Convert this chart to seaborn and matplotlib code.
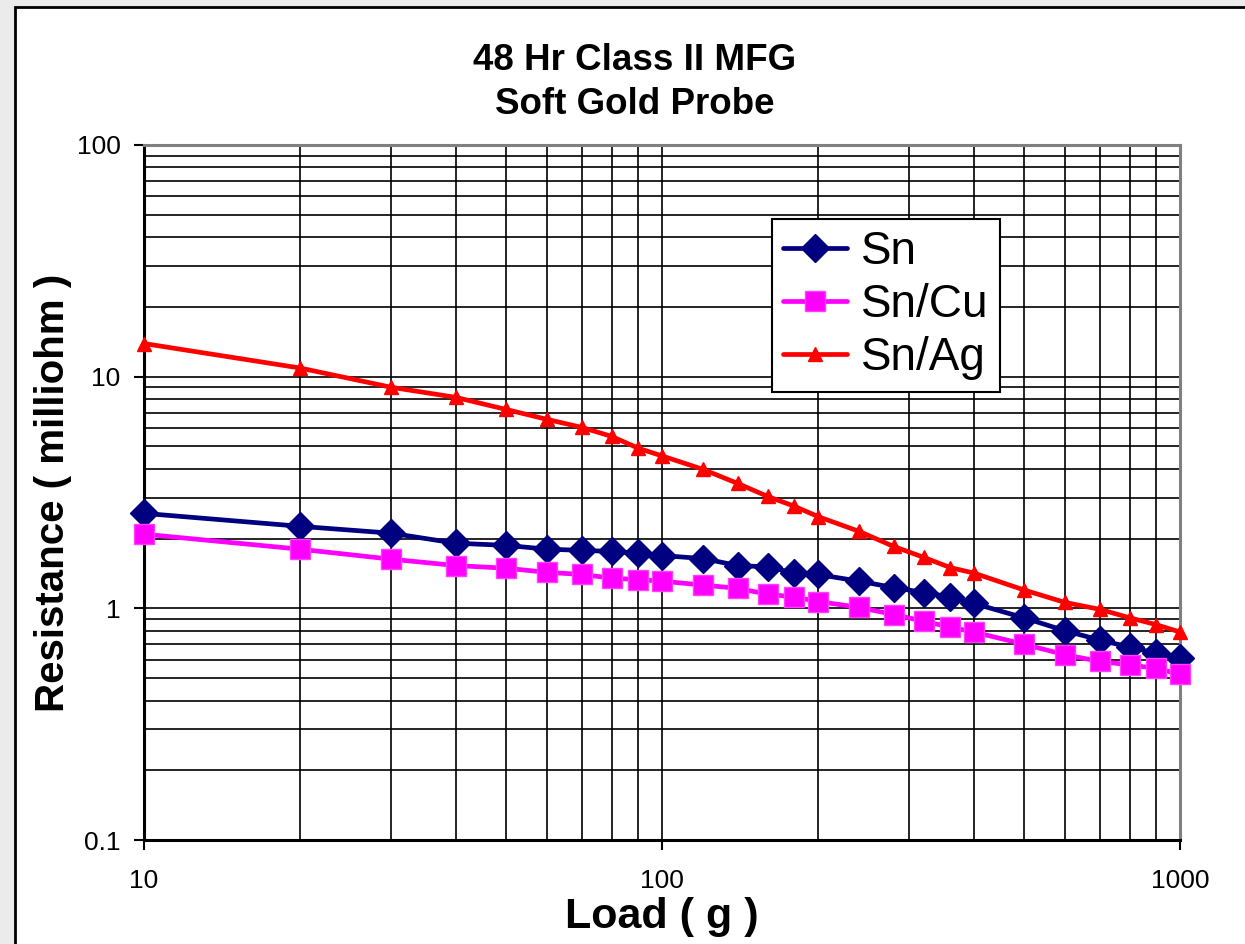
import matplotlib
matplotlib.use("Agg")
import matplotlib.pyplot as plt
import numpy as np
import pandas as pd
import seaborn as sns
from matplotlib.patches import Rectangle
from matplotlib.ticker import FixedLocator, LogLocator, NullFormatter

# load (g) at which resistance was measured
load_g = [10, 20, 30, 40, 50, 60, 70, 80, 90, 100, 120, 140, 160, 180, 200,
          240, 280, 320, 360, 400, 500, 600, 700, 800, 900, 1000]

# contact resistance, milliohm
sn = [2.57, 2.26, 2.11, 1.91, 1.87, 1.80, 1.78, 1.76, 1.73, 1.69, 1.64, 1.53, 1.51,
      1.42, 1.40, 1.31, 1.23, 1.17, 1.12, 1.05, 0.91, 0.80, 0.73, 0.68, 0.64, 0.61]
sn_cu = [2.09, 1.80, 1.63, 1.53, 1.49, 1.43, 1.40, 1.35, 1.33, 1.31, 1.26, 1.22, 1.15,
         1.12, 1.07, 1.01, 0.94, 0.88, 0.83, 0.79, 0.70, 0.63, 0.59, 0.57, 0.55, 0.52]
sn_ag = [13.9, 10.9, 9.0, 8.14, 7.22, 6.54, 6.04, 5.52, 4.91, 4.55, 3.98, 3.46, 3.04,
         2.76, 2.49, 2.15, 1.85, 1.66, 1.50, 1.42, 1.20, 1.06, 0.99, 0.91, 0.85, 0.79]

series_names = ["Sn", "Sn/Cu", "Sn/Ag"]
y_ticks = [0.1, 1, 10, 100]
y_tick_labels = ["0.1", "1", "10", "100"]
x_ticks = [10, 100, 1000]
x_tick_labels = ["10", "100", "1000"]

df = pd.DataFrame({
    "load": load_g * 3,
    "res": sn + sn_cu + sn_ag,
    "alloy": np.repeat(series_names, len(load_g)),
})

# per-series look, Excel style
styles = {
    "Sn": dict(color="#000080", marker="D", markersize=14, mec="#000080"),
    "Sn/Cu": dict(color="#FF00FF", marker="s", markersize=15, mec="#FF40FF"),
    "Sn/Ag": dict(color="#FF0000", marker="^", markersize=10, mec="#FF0000"),
}

sns.set_theme(style="white")
plt.rcParams["font.family"] = ["Liberation Sans", "DejaVu Sans"]
plt.rcParams["text.color"] = "black"
plt.rcParams["axes.labelcolor"] = "black"
plt.rcParams["xtick.color"] = "black"
plt.rcParams["ytick.color"] = "black"

fig = plt.figure(figsize=(12.45, 9.44), dpi=100, facecolor="#EBEBEB")
fig.patches.append(Rectangle((15 / 1245, -0.02), 1.1, 1 - 7 / 944 + 0.02,
                             transform=fig.transFigure, facecolor="white",
                             edgecolor="black", lw=2, zorder=-10))
ax = fig.add_axes([144 / 1245, 1 - 840 / 944, 1036 / 1245, 695 / 944])
ax.set_zorder(2)
ax.set_facecolor("white")
ax.set_xscale("log")
ax.set_yscale("log")

for name in series_names:
    st = styles[name]
    sns.lineplot(data=df[df["alloy"] == name], x="load", y="res", ax=ax,
                 label=name, color=st["color"], marker=st["marker"],
                 markersize=st["markersize"], markeredgecolor=st["mec"],
                 markeredgewidth=1, linewidth=3.4, errorbar=None, zorder=3,
                 clip_on=False)

ax.set_xlim(10, 1000)
ax.set_ylim(0.1, 100)
ax.xaxis.set_major_locator(FixedLocator(x_ticks))
ax.set_xticklabels(x_tick_labels)
ax.yaxis.set_major_locator(FixedLocator(y_ticks))
ax.set_yticklabels(y_tick_labels)
ax.xaxis.set_minor_locator(LogLocator(base=10, subs=np.arange(2, 10)))
ax.yaxis.set_minor_locator(LogLocator(base=10, subs=np.arange(2, 10)))
ax.xaxis.set_minor_formatter(NullFormatter())
ax.yaxis.set_minor_formatter(NullFormatter())

ax.grid(which="both", color="black", linewidth=1.2)
ax.set_axisbelow(True)
ax.tick_params(which="minor", length=0)
ax.tick_params(axis="y", which="major", direction="out", length=7, width=1.5,
               color="black", labelsize=19, pad=10, left=True)
ax.tick_params(axis="x", which="major", direction="out", length=7, width=1.5,
               color="black", labelsize=19, pad=14, bottom=True)

for side in ["left", "bottom"]:
    ax.spines[side].set_color("black")
    ax.spines[side].set_linewidth(2.2)
for side in ["top", "right"]:
    ax.spines[side].set_color("#808080")
    ax.spines[side].set_linewidth(2.2)

ax.set_xlabel("Load ( g )", fontsize=31, fontweight="bold", labelpad=3)
ax.set_ylabel("Resistance ( milliohm )", fontsize=29, fontweight="bold", labelpad=3)
fig.text(0.51, 1 - 61 / 944, "48 Hr Class II MFG", ha="center", va="center",
         fontsize=26.5, fontweight="bold")
fig.text(0.51, 1 - 104 / 944, "Soft Gold Probe", ha="center", va="center",
         fontsize=26.5, fontweight="bold")

handles, labels = ax.get_legend_handles_labels()
leg = ax.legend(handles, labels, loc="upper left", bbox_to_anchor=(0.606, 0.894),
                fontsize=33, frameon=True, fancybox=False, framealpha=1,
                edgecolor="black", handlelength=1.4, handletextpad=0.3,
                labelspacing=0.2, borderpad=0.25, borderaxespad=0, numpoints=1)
leg.get_frame().set_linewidth(1.5)

fig.savefig("out.png", dpi=100, facecolor=fig.get_facecolor())
